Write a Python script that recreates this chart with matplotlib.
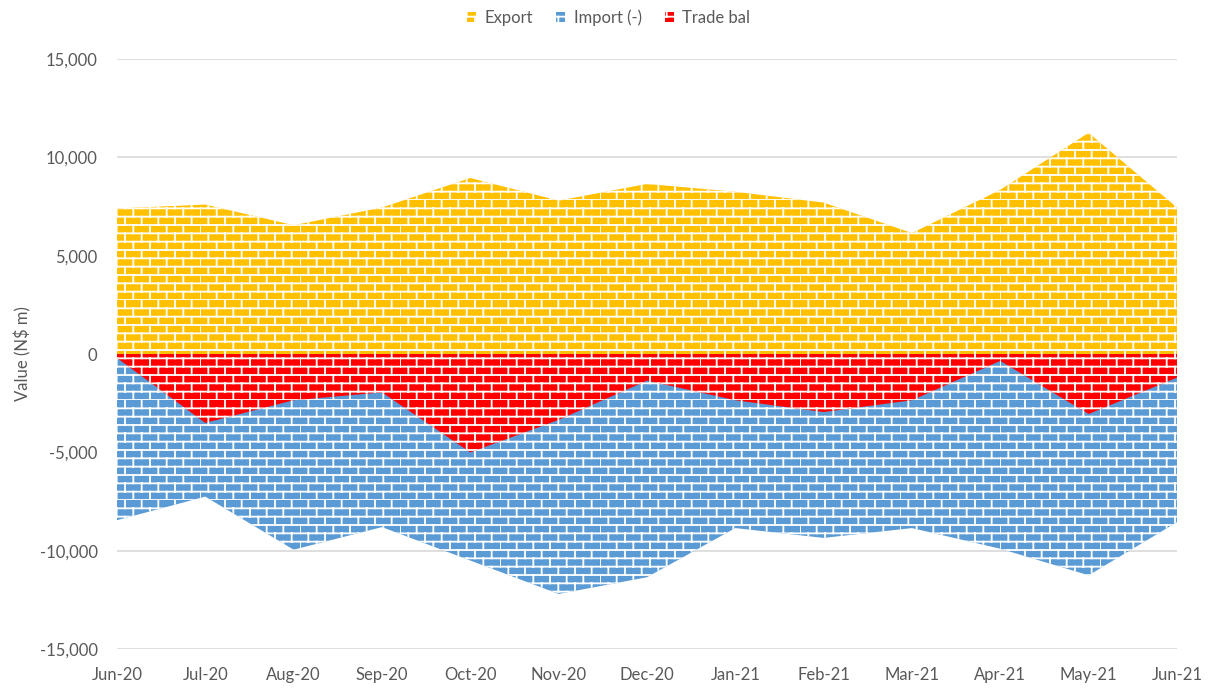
import numpy as np
import matplotlib
matplotlib.use('Agg')
import matplotlib.pyplot as plt
import matplotlib.hatch as mhatch
from matplotlib.path import Path
from matplotlib.patches import Patch

# Datos (N$ m)
months = ['Jun-20', 'Jul-20', 'Aug-20', 'Sep-20', 'Oct-20', 'Nov-20', 'Dec-20',
          'Jan-21', 'Feb-21', 'Mar-21', 'Apr-21', 'May-21', 'Jun-21']
export = [7400, 7600, 6550, 7450, 8950, 7800, 8650, 8250, 7700, 6150, 8350, 11250, 7450]
imports = [-8450, -7250, -9950, -8800, -10500, -12200, -11350, -8850, -9350, -8850, -9900, -11250, -8550]
trade_bal = [-200, -3500, -2350, -1950, -5000, -3350, -1350, -2350, -2950, -2350, -350, -3050, -1200]

yticks = [-15000, -10000, -5000, 0, 5000, 10000, 15000]


class BrickHatch(mhatch.HatchPatternBase):
    """Patron de ladrillos (estilo Excel) usando '-' como caracter."""

    def __init__(self, hatch, density):
        self.rows = hatch.count('-') * density
        self.cols = 6
        n_h = self.rows
        n_v = self.rows * self.cols
        self.num_vertices = (n_h + n_v) * 2 if self.rows else 0

    def set_vertices_and_codes(self, vertices, codes):
        pts = []
        h = 1.0 / self.rows
        w = 1.0 / self.cols
        for i in range(self.rows):
            y0 = i * h
            pts.append(((0.0, y0), (1.0, y0)))
            off = (i % 2) * w / 2
            for j in range(self.cols):
                x = j * w + off
                pts.append(((x, y0), (x, y0 + h)))
        arr = np.array(pts).reshape(-1, 2)
        vertices[:] = arr
        codes[0::2] = Path.MOVETO
        codes[1::2] = Path.LINETO


mhatch._hatch_types = [BrickHatch]

plt.rcParams['font.family'] = ['Lato', 'DejaVu Sans']
plt.rcParams['hatch.linewidth'] = 1.3
plt.rcParams['hatch.color'] = 'white'

fig = plt.figure(figsize=(12.17, 6.92), dpi=100)
ax = fig.add_axes([0.0961, 0.0621, 0.8710, 0.8526])

x = np.arange(len(months))
c_exp = '#FFC000'
c_imp = '#5B9BD5'
c_bal = '#FF0000'

ax.fill_between(x, 0, export, facecolor=c_exp, edgecolor='white', hatch='--', linewidth=0, zorder=2)
ax.fill_between(x, 0, imports, facecolor=c_imp, edgecolor='white', hatch='--', linewidth=0, zorder=3)
ax.fill_between(x, 0, trade_bal, facecolor=c_bal, edgecolor='white', hatch='--', linewidth=0, zorder=4)

ax.set_xlim(0, len(months) - 1)
ax.set_ylim(-15000, 15000)
ax.set_yticks(yticks)
ax.set_yticklabels([f'{v:,}' for v in yticks])
ax.set_xticks(x)
ax.set_xticklabels(months)

for s in ax.spines.values():
    s.set_visible(False)
ax.tick_params(length=0, labelsize=12, colors='#595959')
ax.tick_params(axis='y', pad=14)
ax.tick_params(axis='x', pad=13)
ax.grid(axis='y', color='#D9D9D9', linewidth=1.2, zorder=1)
ax.set_axisbelow(True)
ax.set_ylabel('Value (N$ m)', fontsize=12, color='#595959', labelpad=6)

handles = [Patch(facecolor=c, edgecolor='white', hatch='--', linewidth=0, label=l)
           for c, l in zip([c_exp, c_imp, c_bal], ['Export', 'Import (-)', 'Trade bal'])]
leg = fig.legend(handles=handles, loc='center', bbox_to_anchor=(0.5, 0.975), ncol=3,
                 frameon=False, fontsize=12, handlelength=0.55, handleheight=0.55,
                 handletextpad=0.5, columnspacing=1.4)
for t in leg.get_texts():
    t.set_color('#595959')

fig.savefig('out.png', dpi=100)
